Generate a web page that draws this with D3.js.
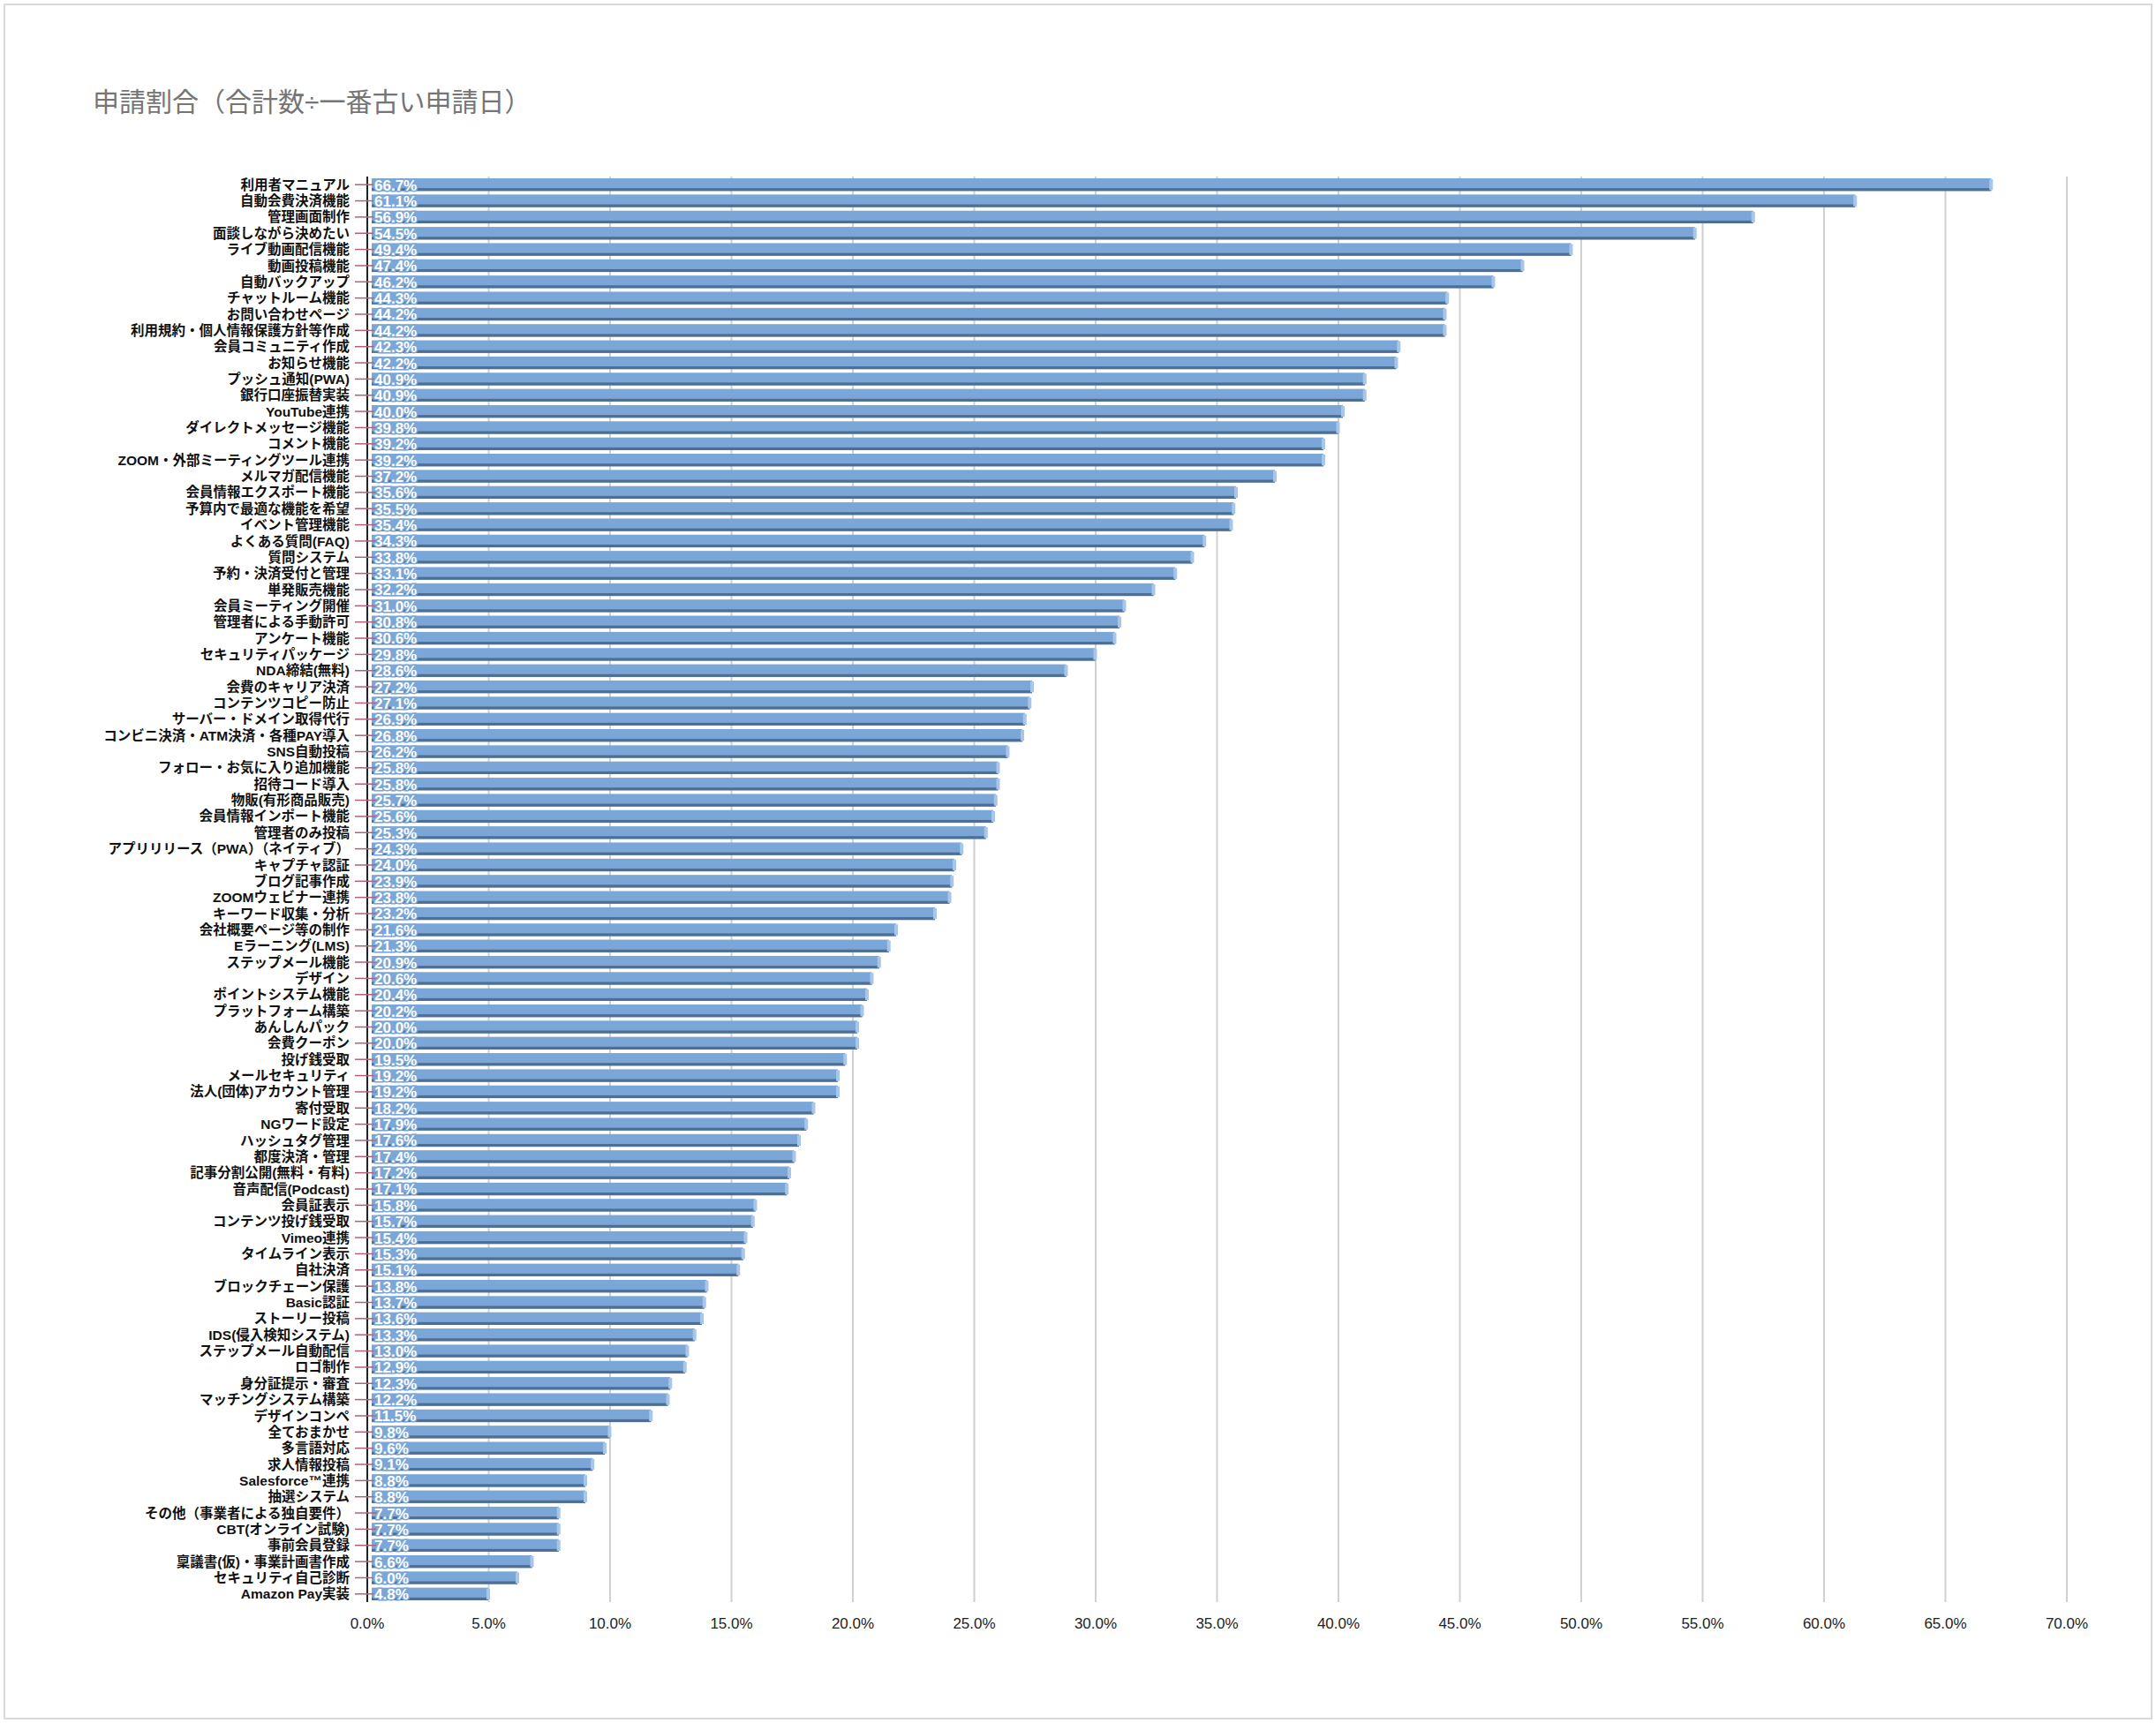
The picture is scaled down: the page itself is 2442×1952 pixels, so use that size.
<!DOCTYPE html>
<html>
<head>
<meta charset="utf-8">
<script src="https://cdn.jsdelivr.net/npm/d3@7"></script>
<style>
  body { margin: 0; background: #fff; }
  svg text { font-family: "Liberation Sans", "Noto Sans CJK JP", sans-serif; }
</style>
</head>
<body>
<script>
const categories = [
  '利用者マニュアル','自動会費決済機能','管理画面制作','面談しながら決めたい','ライブ動画配信機能','動画投稿機能',
  '自動バックアップ','チャットルーム機能','お問い合わせページ','利用規約・個人情報保護方針等作成','会員コミュニティ作成',
  'お知らせ機能','プッシュ通知(PWA)','銀行口座振替実装','YouTube連携','ダイレクトメッセージ機能','コメント機能',
  'ZOOM・外部ミーティングツール連携','メルマガ配信機能','会員情報エクスポート機能','予算内で最適な機能を希望',
  'イベント管理機能','よくある質問(FAQ)','質問システム','予約・決済受付と管理','単発販売機能','会員ミーティング開催',
  '管理者による手動許可','アンケート機能','セキュリティパッケージ','NDA締結(無料)','会費のキャリア決済',
  'コンテンツコピー防止','サーバー・ドメイン取得代行','コンビニ決済・ATM決済・各種PAY導入','SNS自動投稿',
  'フォロー・お気に入り追加機能','招待コード導入','物販(有形商品販売)','会員情報インポート機能','管理者のみ投稿',
  'アプリリリース（PWA）（ネイティブ）','キャプチャ認証','ブログ記事作成','ZOOMウェビナー連携','キーワード収集・分析',
  '会社概要ページ等の制作','Eラーニング(LMS)','ステップメール機能','デザイン','ポイントシステム機能','プラットフォーム構築',
  'あんしんパック','会費クーポン','投げ銭受取','メールセキュリティ','法人(団体)アカウント管理','寄付受取','NGワード設定',
  'ハッシュタグ管理','都度決済・管理','記事分割公開(無料・有料)','音声配信(Podcast)','会員証表示','コンテンツ投げ銭受取',
  'Vimeo連携','タイムライン表示','自社決済','ブロックチェーン保護','Basic認証','ストーリー投稿','IDS(侵入検知システム)',
  'ステップメール自動配信','ロゴ制作','身分証提示・審査','マッチングシステム構築','デザインコンペ','全ておまかせ',
  '多言語対応','求人情報投稿','Salesforce™連携','抽選システム','その他（事業者による独自要件）','CBT(オンライン試験)',
  '事前会員登録','稟議書(仮)・事業計画書作成','セキュリティ自己診断','Amazon Pay実装'
];
const values = [
  66.7,61.1,56.9,54.5,49.4,47.4,46.2,44.3,44.2,44.2,42.3,42.2,40.9,40.9,40.0,39.8,39.2,
  39.2,37.2,35.6,35.5,35.4,34.3,33.8,33.1,32.2,31.0,30.8,30.6,29.8,28.6,27.2,27.1,26.9,26.8,
  26.2,25.8,25.8,25.7,25.6,25.3,24.3,24.0,23.9,23.8,23.2,21.6,21.3,20.9,20.6,20.4,20.2,
  20.0,20.0,19.5,19.2,19.2,18.2,17.9,17.6,17.4,17.2,17.1,15.8,15.7,15.4,15.3,15.1,13.8,13.7,
  13.6,13.3,13.0,12.9,12.3,12.2,11.5,9.8,9.6,9.1,8.8,8.8,7.7,7.7,7.7,6.6,6.0,4.8
];
const xTicks = [0,5,10,15,20,25,30,35,40,45,50,55,60,65,70];
const title = '申請割合（合計数÷一番古い申請日）';

const W = 2442, H = 1952;
const svg = d3.select('body').append('svg').attr('width', W).attr('height', H);

svg.append('rect').attr('x', 5).attr('y', 5).attr('width', W - 10).attr('height', H - 10)
  .attr('fill', '#fff').attr('stroke', '#d9d9d9').attr('stroke-width', 2);

svg.append('text').attr('x', 105).attr('y', 126).attr('font-size', 30)
  .attr('fill', '#757575').text(title);

const x = d3.scaleLinear().domain([0, 70]).range([416, 2341]);
const y = d3.scaleBand().domain(categories).range([200, 1815]).paddingInner(0.22).paddingOuter(0.11);

// gridlines
svg.append('g').selectAll('line').data(xTicks.slice(1)).join('line')
  .attr('x1', d => x(d)).attr('x2', d => x(d)).attr('y1', 200).attr('y2', 1815)
  .attr('stroke', '#d0d0d0').attr('stroke-width', 2);

// bars with a darker lower edge and a lighter end cap
const off = 5;
const g = svg.append('g');
g.selectAll('rect.main').data(values).join('rect')
  .attr('x', x(0) + off).attr('y', (d, i) => y(categories[i]))
  .attr('width', d => x(d) - x(0)).attr('height', y.bandwidth())
  .attr('fill', '#7ba7d8');
g.selectAll('rect.shade').data(values).join('rect')
  .attr('x', x(0) + off).attr('y', (d, i) => y(categories[i]) + y.bandwidth() * 0.78)
  .attr('width', d => x(d) - x(0)).attr('height', y.bandwidth() * 0.22)
  .attr('fill', '#4e6e94');
g.selectAll('rect.cap').data(values).join('rect')
  .attr('x', d => x(d) + off - 2).attr('y', (d, i) => y(categories[i]) + 1)
  .attr('width', 4).attr('height', y.bandwidth() - 2)
  .attr('fill', '#a9c6e8');

// axis
svg.append('line').attr('x1', x(0)).attr('x2', x(0)).attr('y1', 200).attr('y2', 1815)
  .attr('stroke', '#222').attr('stroke-width', 2);
svg.append('g').selectAll('line').data(categories).join('line')
  .attr('x1', x(0) - 14).attr('x2', x(0) + 12)
  .attr('y1', d => y(d) + y.bandwidth() / 2).attr('y2', d => y(d) + y.bandwidth() / 2)
  .attr('stroke', '#b0607f').attr('stroke-width', 1.5);

// category labels
svg.append('g').selectAll('text').data(categories).join('text')
  .attr('x', x(0) - 20).attr('y', d => y(d) + y.bandwidth() / 2)
  .attr('dy', '0.36em').attr('text-anchor', 'end')
  .attr('font-size', 15.5).attr('font-weight', 'bold').attr('fill', '#111').text(d => d);

// value labels
svg.append('g').selectAll('text').data(values).join('text')
  .attr('x', x(0) + 8).attr('y', (d, i) => y(categories[i]) + y.bandwidth() / 2)
  .attr('dy', '0.38em').attr('font-size', 17).attr('font-weight', 'bold')
  .attr('fill', '#fff').attr('stroke', '#7ba7d8').attr('stroke-width', 3)
  .attr('paint-order', 'stroke').text(d => d.toFixed(1) + '%');

// x tick labels
svg.append('g').selectAll('text').data(xTicks).join('text')
  .attr('x', d => x(d)).attr('y', 1845).attr('text-anchor', 'middle')
  .attr('font-size', 17).attr('fill', '#222')
  .attr('font-family', '"Liberation Sans Narrow", "Liberation Sans", sans-serif')
  .text(d => d.toFixed(1) + '%');
</script>
</body>
</html>
